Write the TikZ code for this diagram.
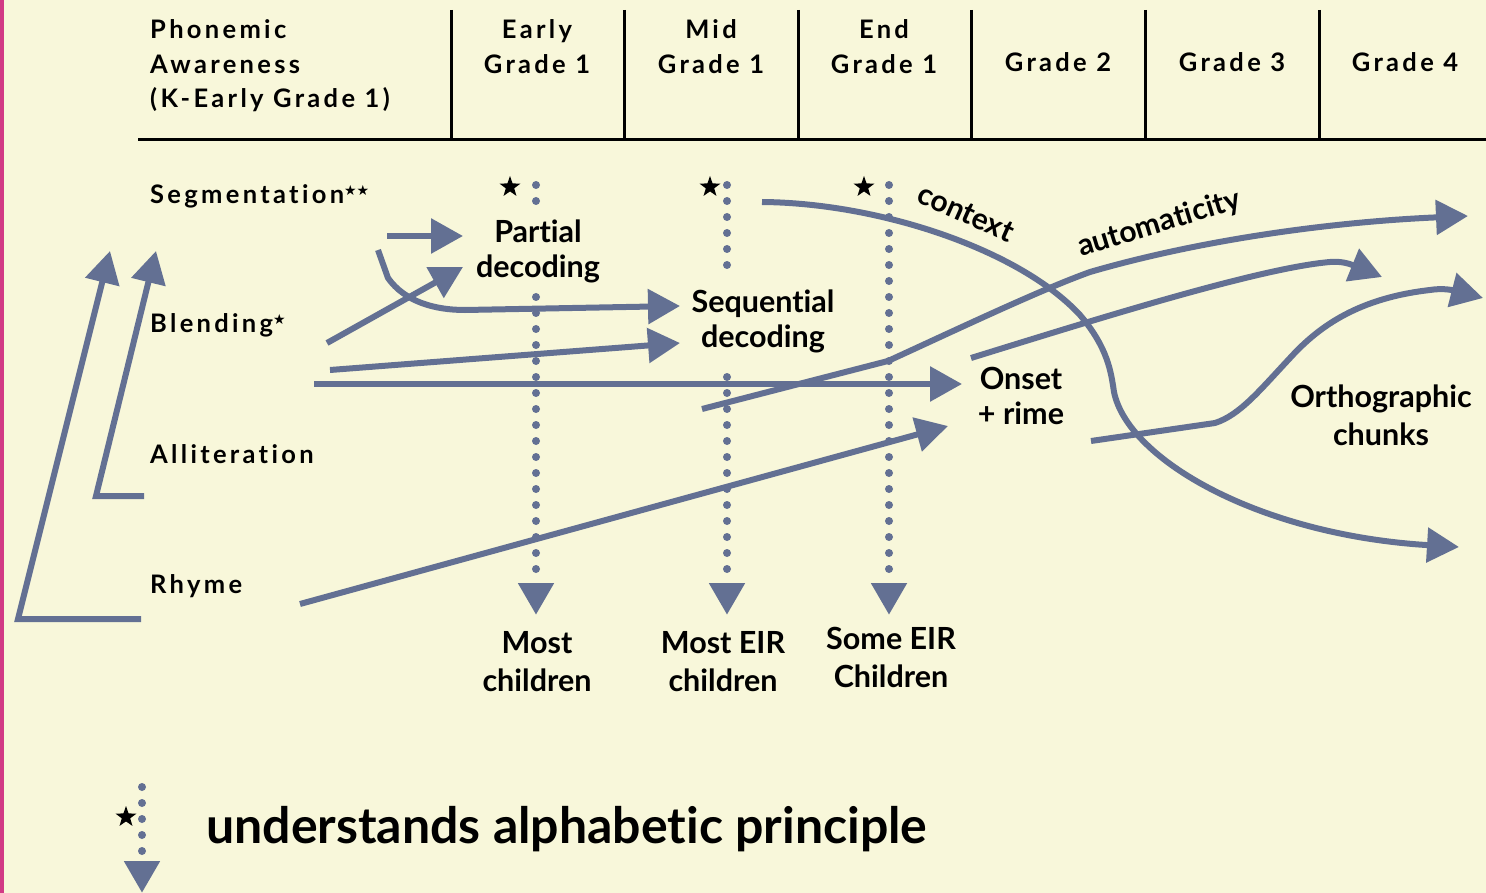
\documentclass[tikz,border=0pt]{standalone}
\usepackage{fontspec}
\setmainfont{Lato}[Ligatures=NoCommon]
\newfontfamily\hdrfont{Lato}[LetterSpace=13,Ligatures=NoCommon]
\newfontfamily\symfont{DejaVu Sans}
\usetikzlibrary{arrows.meta,shapes.geometric}
\definecolor{bgcream}{HTML}{F8F7DA}
\definecolor{pinkbar}{HTML}{D23A85}
\definecolor{blu}{HTML}{637093}
\begin{document}
\begin{tikzpicture}[x=1pt,y=-1pt,
  flow/.style={draw=blu,line width=6pt,-{Triangle[length=32pt,width=34pt]}},
  dotcol/.style={draw=blu,line width=8pt,line cap=round,dash pattern=on 0pt off 16pt,-{Triangle[length=32pt,width=34pt]}},
  dotplain/.style={draw=blu,line width=8pt,line cap=round,dash pattern=on 0pt off 16pt},
  rule/.style={draw=black,line width=3pt},
  hdr/.style={font=\hdrfont\bfseries\fontsize{25.5}{34.5}\selectfont,align=center,inner sep=0pt},
  rowlbl/.style={font=\hdrfont\bfseries\fontsize{25.5}{34.5}\selectfont,inner sep=0pt,anchor=base west},
  lbl/.style={font=\bfseries\fontsize{30.5}{35}\selectfont,align=center,inner sep=0pt,anchor=north},
  lblb/.style={font=\bfseries\fontsize{30.5}{38}\selectfont,align=center,inner sep=0pt,anchor=north},
  starnode/.style={star,star points=5,star point ratio=2.5,fill=black,minimum size=22pt,inner sep=0pt},
  tinystar/.style={}
]
\path[use as bounding box,fill=bgcream] (0,0) rectangle (1486,893);
\fill[pinkbar] (0,0) rectangle (4,893);

% header grid
\coordinate (hl) at (138,140);
\coordinate (hr) at (1486,140);
\draw[rule] (hl) -- (hr);
\foreach \i/\x in {1/451,2/624,3/798,4/971,5/1145,6/1319}{
  \coordinate (vt\i) at (\x,10);
  \coordinate (vb\i) at (\x,141.5);
  \draw[rule] (vt\i) -- (vb\i);
}

% header texts
\node[hdr,align=left,anchor=north west] (hpa) at (150,19.5) {Phonemic\\Awareness\\(K-Early Grade 1)};
\node[hdr,anchor=north] (heg) at (537,19.5) {Early\\Grade 1};
\node[hdr,anchor=north] (hmg) at (711,19.5) {Mid\\Grade 1};
\node[hdr,anchor=north] (hend) at (884,19.5) {End\\Grade 1};
\node[hdr,anchor=base] (hg2) at (1058,72) {Grade 2};
\node[hdr,anchor=base] (hg3) at (1232,72) {Grade 3};
\node[hdr,anchor=base] (hg4) at (1405,72) {Grade 4};

% row labels
\node[rowlbl] (seg) at (150,204) {Segmentation\raisebox{8pt}{{\symfont\fontsize{14}{14}\selectfont ★★}}};
\node[rowlbl] (ble) at (150,333) {Blending\raisebox{8pt}{{\symfont\fontsize{14}{14}\selectfont ★}}};
\node[rowlbl] (all) at (150,463) {Alliteration};
\node[rowlbl] (rhy) at (150,593) {Rhyme};

% stage labels
\node[lbl] (pd) at (538,220) {Partial\\decoding};
\node[lbl] (sd) at (763,290) {Sequential\\decoding};
\node[lbl] (onr) at (1021,367) {Onset\\+ rime};
\node[lblb] (orc) at (1381,385) {Orthographic\\chunks};
\node[lblb] (mc) at (537,631) {Most\\children};
\node[lblb] (mec) at (723,631) {Most EIR\\children};
\node[lblb] (sec) at (891,627) {Some EIR\\Children};

% rotated labels
\node[font=\bfseries\fontsize{30}{35}\selectfont,inner sep=0pt,rotate=-24] (ctx) at (966,213) {context};
\node[font=\bfseries\fontsize{30}{35}\selectfont,inner sep=0pt,rotate=17] (aut) at (1159,224) {automaticity};

% stars above dotted lines
\node[starnode] (st1) at (510,187) {};
\node[starnode] (st2) at (710,187) {};
\node[starnode] (st3) at (864,187) {};

% dotted columns
\coordinate (c1a) at (536,185); \coordinate (c1b) at (536,202);
\coordinate (c1c) at (536,297); \coordinate (c1d) at (536,615);
\draw[dotplain] (c1a) -- (c1b);
\draw[dotcol] (c1c) -- (c1d);
\coordinate (c2a) at (727,185); \coordinate (c2b) at (727,266);
\coordinate (c2c) at (727,377); \coordinate (c2d) at (727,615);
\draw[dotplain] (c2a) -- (c2b);
\draw[dotcol] (c2c) -- (c2d);
\coordinate (c3a) at (889,185); \coordinate (c3d) at (889,615);
\draw[dotcol] (c3a) -- (c3d);

% left bracket arrows
\coordinate (ob1) at (141,619); \coordinate (ob2) at (18,619); \coordinate (ob3) at (110,251);
\draw[flow] (ob1) -- (ob2) -- (ob3);
\coordinate (ib1) at (144,496); \coordinate (ib2) at (96,496); \coordinate (ib3) at (156,251);
\draw[flow] (ib1) -- (ib2) -- (ib3);

% arrows into partial decoding
\coordinate (a1s) at (387,236); \coordinate (a1e) at (463,236);
\draw[flow] (a1s) -- (a1e);
\coordinate (a2s) at (327,343); \coordinate (a2e) at (463,267);
\draw[flow] (a2s) -- (a2e);

% curved arrow into sequential decoding
\coordinate (a3s) at (378,250); \coordinate (a3k) at (388,278);
\coordinate (a3m) at (465,310); \coordinate (a3e) at (680,306);
\draw[flow] (a3s) -- (a3k) .. controls (405,302) and (435,310) .. (a3m) -- (a3e);
\coordinate (a4s) at (330,370); \coordinate (a4e) at (680,343);
\draw[flow] (a4s) -- (a4e);

% long arrow to onset + rime
\coordinate (a5s) at (314,384); \coordinate (a5e) at (962,384);
\draw[flow] (a5s) -- (a5e);
\coordinate (a6s) at (300,604); \coordinate (a6e) at (948,426);
\draw[flow] (a6s) -- (a6e);

% automaticity
\coordinate (a7s) at (702,409); \coordinate (a7k) at (888,361);
\coordinate (a7m) at (1090,272); \coordinate (a7e) at (1468,216);
\draw[flow] (a7s) -- (a7k) .. controls (960,328) and (1040,290) .. (a7m)
  .. controls (1200,240) and (1330,222) .. (a7e);

% onset to grade 3/4
\coordinate (a8s) at (971,358); \coordinate (a8m) at (1330,262); \coordinate (a8e) at (1382,277);
\draw[flow] (a8s) .. controls (1100,318) and (1260,268) .. (a8m)
  .. controls (1342,261) and (1350,264) .. (a8e);

% orthographic chunks
\coordinate (a9s) at (1091,441); \coordinate (a9k) at (1215,423);
\coordinate (a9m) at (1290,358); \coordinate (a9n) at (1430,290); \coordinate (a9e) at (1483,298);
\draw[flow] (a9s) -- (a9k) .. controls (1240,415) and (1260,390) .. (a9m)
  .. controls (1320,325) and (1360,298) .. (a9n) .. controls (1442,288) and (1452,290) .. (a9e);

% context
\coordinate (a10s) at (762,202); \coordinate (a10m) at (1080,315);
\coordinate (a10n) at (1114,392); \coordinate (a10e) at (1459,547);
\draw[flow] (a10s) .. controls (880,203) and (1020,250) .. (a10m)
  .. controls (1108,348) and (1111,372) .. (a10n)
  .. controls (1128,460) and (1260,535) .. (a10e);

% legend
\node[starnode] (lst) at (126,817) {};
\coordinate (lga) at (142,787); \coordinate (lgb) at (142,893);
\draw[dotcol] (lga) -- (lgb);
\node[font=\bfseries\fontsize{50}{54}\selectfont,inner sep=0pt,anchor=base west] (leg) at (206,843) {understands alphabetic principle};
\end{tikzpicture}
\end{document}
